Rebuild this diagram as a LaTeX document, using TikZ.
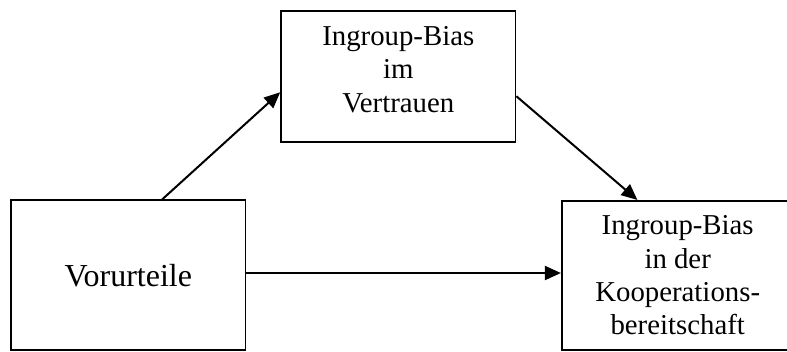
\documentclass[tikz,border=0pt]{standalone}
\usepackage{fontspec}
\setmainfont{Liberation Serif}
\usetikzlibrary{arrows.meta}
\tikzset{
  boxnode/.style={draw, line width=1.6pt, rectangle, inner sep=0pt, align=center,
    font=\fontsize{28.8}{33.4}\selectfont},
  arr/.style={line width=2pt, -{Triangle[length=16pt,width=14pt]}}
}
\begin{document}
\begin{tikzpicture}[x=1pt,y=-1pt]
  \clip (0,0) rectangle (787,351);
  % the three variables
  \node[boxnode, minimum width=234.6pt, minimum height=150pt,
        font=\fontsize{32}{36}\selectfont] (vor) at (128.3,275.2) {Vorurteile};
  \node[boxnode, minimum width=234.6pt, minimum height=130.7pt, text depth=14.5pt]
        (ver) at (398.3,76.4) {Ingroup-Bias\\im\\Vertrauen};
  \node[boxnode, minimum width=232pt, minimum height=149.5pt] (koo) at (677.7,275.5)
        {Ingroup-Bias\\in der\\Kooperations-\\bereitschaft};
  % paths
  \coordinate (a1) at ([xshift=152pt]vor.north west);
  \coordinate (b1) at ([yshift=-82pt]ver.north west);
  \coordinate (a2) at ([yshift=-86pt]ver.north east);
  \coordinate (b2) at ([xshift=76.5pt]koo.north west);
  \draw[arr] (a1) -- (b1);
  \draw[arr] (a2) -- (b2);
  \draw[arr] (vor.east |- 0,273) -- (koo.west |- 0,273);
\end{tikzpicture}
\end{document}
